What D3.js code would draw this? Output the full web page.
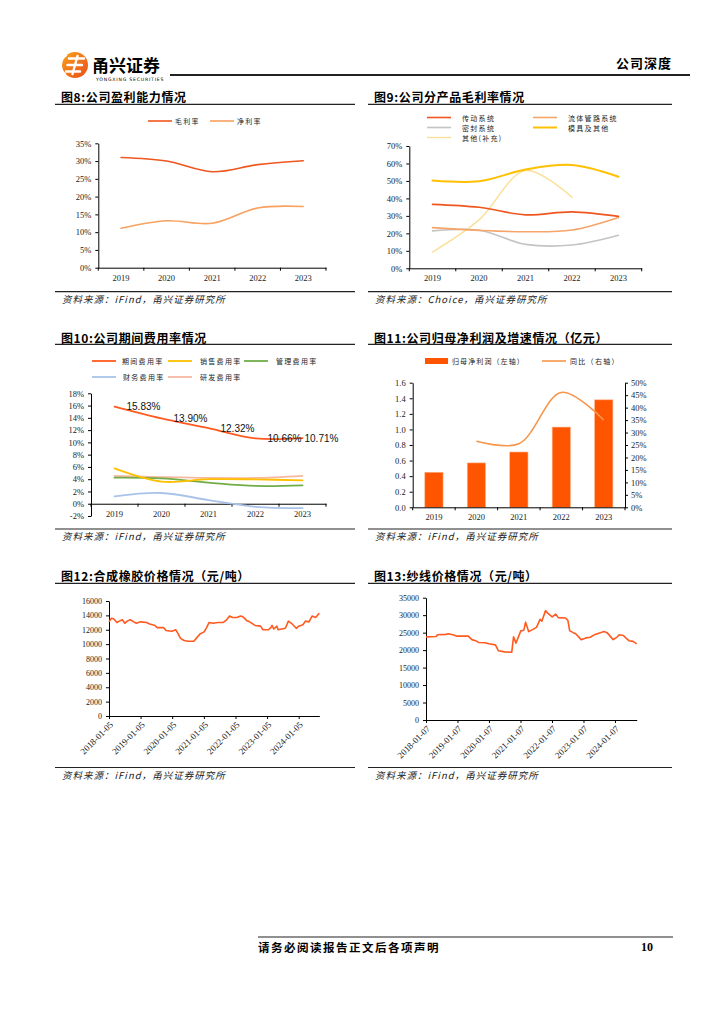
<!DOCTYPE html>
<html>
<head>
<meta charset="utf-8">
<script src="https://cdn.jsdelivr.net/npm/d3@7"></script>
<style>
  body { margin: 0; background: #fff; }
</style>
</head>
<body>
<script>
// ---- data ----
var years = ["2019", "2020", "2021", "2022", "2023"];

// 图8 盈利能力 (%)
var grossMargin = [31.0, 30.0, 27.0, 29.0, 30.1];
var netMargin = [11.1, 13.2, 12.5, 16.8, 17.2];
var ticks8 = [0, 5, 10, 15, 20, 25, 30, 35];

// 图9 分产品毛利率 (%)
var driveGM = [36.6, 34.9, 30.6, 32.3, 29.7];
var fluidGM = [23.3, 21.7, 20.9, 21.9, 29.1];
var sealGM = [21.4, 21.8, 13.7, 13.3, 18.9];
var moldGM = [50.2, 49.8, 56.5, 59.1, 52.4];
var otherGM = [9.3, 27.7, 55.9, 40.6, null];
var ticks9 = [0, 10, 20, 30, 40, 50, 60, 70];

// 图10 期间费用率 (%)
var feeTotal = [15.83, 13.90, 12.32, 10.66, 10.71];
var feeSales = [5.75, 3.6, 4.0, 3.97, 3.8];
var feeAdmin = [4.24, 4.13, 3.45, 2.9, 3.0];
var feeFin = [1.2, 1.75, 0.6, -0.5, -0.7];
var feeRD = [4.55, 4.35, 4.2, 4.2, 4.55];
var ticks10 = [-2, 0, 2, 4, 6, 8, 10, 12, 14, 16, 18];

// 图11 归母净利润 (亿元) 及同比 (%)
var netProfit = [0.45, 0.57, 0.71, 1.03, 1.38];
var profitYoY = [null, 26.5, 25.5, 46.1, 35.0];
var ticks11L = [0, 0.2, 0.4, 0.6, 0.8, 1.0, 1.2, 1.4, 1.6];
var ticks11R = [0, 5, 10, 15, 20, 25, 30, 35, 40, 45, 50];

// 图12 合成橡胶价格 (元/吨)
var rubberDates = ["2018-01-05","2018-02-02","2018-03-02","2018-04-06","2018-05-04","2018-06-08","2018-07-06","2018-08-03","2018-09-07","2018-10-19",
  "2018-11-16","2019-01-04","2019-03-15","2019-04-19","2019-06-21","2019-07-12","2019-09-27","2019-10-25","2020-01-03","2020-02-14",
  "2020-03-06","2020-04-10","2020-05-22","2020-07-03","2020-09-11","2020-10-09","2020-11-20","2021-01-08","2021-02-05","2021-03-05",
  "2021-04-23","2021-06-18","2021-08-13","2021-09-17","2021-10-29","2021-12-03","2022-01-21","2022-03-04","2022-04-01","2022-05-13",
  "2022-06-17","2022-08-19","2022-10-21","2022-11-18","2023-01-20","2023-02-17","2023-03-03","2023-03-24","2023-04-28","2023-05-12",
  "2023-08-04","2023-09-08","2023-10-13","2023-12-08","2024-01-05","2024-02-23","2024-03-22","2024-05-03","2024-06-07","2024-07-19",
  "2024-08-30"];
var rubberPrice = [13100,13600,13500,13000,13200,13400,12900,13200,13400,13100,
  12900,13100,13000,12800,12600,12300,12300,11900,11800,12000,
  11600,10800,10500,10400,10400,10800,11400,11700,12300,13000,
  12900,13000,13000,13300,13900,13700,13700,13900,13800,13300,
  13100,12600,12500,12000,12000,12300,12600,12100,12500,12000,
  12200,13200,12900,12200,12500,12700,13200,13100,13900,13700,
  14300];
var rubberTicks = ["2018-01-05","2019-01-05","2020-01-05","2021-01-05","2022-01-05","2023-01-05","2024-01-05"];
var rubberY = [0, 2000, 4000, 6000, 8000, 10000, 12000, 14000, 16000];

// 图13 纱线价格 (元/吨)
var yarnDates = ["2018-01-07","2018-05-06","2018-05-20","2018-08-26","2018-09-23","2018-11-25","2018-12-30","2019-05-12","2019-06-23","2019-08-04",
  "2019-09-08","2019-11-24","2020-01-05","2020-03-22","2020-04-26","2020-07-05","2020-09-27","2020-10-18","2020-11-15","2021-01-10",
  "2021-02-14","2021-03-07","2021-04-11","2021-06-06","2021-07-11","2021-08-22","2021-09-12","2021-10-24","2021-11-21","2022-01-09",
  "2022-02-20","2022-03-20","2022-06-12","2022-07-10","2022-07-31","2022-09-11","2022-10-09","2022-12-11","2023-02-05","2023-03-26",
  "2023-05-21","2023-09-03","2023-10-08","2023-12-17","2024-02-04","2024-02-25","2024-04-14","2024-05-12","2024-06-16","2024-08-04",
  "2024-09-15"];
var yarnPrice = [23800,23900,24400,24500,24700,24300,24000,24000,23000,22700,
  22200,22100,21800,21500,19800,19500,19400,23800,22000,25500,
  25700,28000,25300,26000,26500,28800,28300,31300,30500,29500,
  30300,29300,29200,28500,25500,25000,24700,23000,23500,23700,
  24500,25300,25000,23000,23800,24400,24200,23500,22700,22500,
  21800];
var yarnTicks = ["2018-01-07","2019-01-07","2020-01-07","2021-01-07","2022-01-07","2023-01-07","2024-01-07"];
var yarnY = [0, 5000, 10000, 15000, 20000, 25000, 30000, 35000];

// ---- setup ----
var cjk = "'Noto Sans CJK SC', 'Noto Sans', sans-serif";
var serif = "'Liberation Serif', 'DejaVu Serif', serif";
var parseDate = d3.timeParse("%Y-%m-%d");

var svg = d3.select("body").append("svg")
    .attr("width", 724)
    .attr("height", 1024);
svg.append("rect").attr("width", 724).attr("height", 1024).attr("fill", "#fff");

// header
var grad = svg.append("defs").append("linearGradient").attr("id", "logoGrad")
    .attr("x1", "0").attr("y1", "0").attr("x2", "1").attr("y2", "1");
grad.append("stop").attr("offset", "0").attr("stop-color", "#F9A11B");
grad.append("stop").attr("offset", "1").attr("stop-color", "#E94E1B");
svg.append("circle").attr("cx", 75).attr("cy", 65).attr("r", 13).attr("fill", "url(#logoGrad)");
svg.append("path")
    .attr("d", "M69,58.5 L84,58.5 M67.5,65 L82,65 M66,71.5 L80,71.5 M77.5,56 L72.5,74")
    .attr("stroke", "#fff").attr("stroke-width", 2.4).attr("stroke-linecap", "round").attr("fill", "none");
svg.append("path")
    .attr("d", "M67,55 A12,12 0 0 0 66,75")
    .attr("stroke", "#fff").attr("stroke-width", 1.6).attr("fill", "none");
svg.append("text").attr("x", 92).attr("y", 64).attr("dominant-baseline", "central")
    .style("font-family", cjk).style("font-weight", 700).style("font-size", "17px")
    .text("甬兴证券");
svg.append("text").attr("x", 96).attr("y", 79.5).attr("dominant-baseline", "central")
    .style("font-family", "'DejaVu Sans', sans-serif").style("font-size", "4.6px").style("letter-spacing", "0.8px")
    .text("YONGXING SECURITIES");
svg.append("line").attr("x1", 170).attr("x2", 690).attr("y1", 75).attr("y2", 75)
    .attr("stroke", "#222").attr("stroke-width", 2);
svg.append("text").attr("x", 672).attr("y", 62).attr("text-anchor", "end").attr("dominant-baseline", "central")
    .style("font-family", cjk).style("font-weight", 700).style("font-size", "13px").style("letter-spacing", "1px")
    .text("公司深度");

// footer
svg.append("line").attr("x1", 258).attr("x2", 673).attr("y1", 937).attr("y2", 937)
    .attr("stroke", "#222").attr("stroke-width", 1.2);
svg.append("text").attr("x", 258).attr("y", 947).attr("dominant-baseline", "central")
    .style("font-family", cjk).style("font-weight", 700).style("font-size", "11.5px").style("letter-spacing", "1.5px")
    .text("请务必阅读报告正文后各项声明");
svg.append("text").attr("x", 653).attr("y", 947).attr("text-anchor", "end").attr("dominant-baseline", "central")
    .style("font-family", serif).style("font-weight", 700).style("font-size", "12px")
    .text("10");

// ---- helpers ----
function frame(x0, x1, ty, tLine, sLine, title, source) {
  svg.append("text").attr("x", x0 + 6).attr("y", ty).attr("dominant-baseline", "central")
      .style("font-family", cjk).style("font-weight", 700).style("font-size", "12px").style("letter-spacing", "0.6px")
      .text(title);
  svg.append("line").attr("x1", x0).attr("x2", x1).attr("y1", tLine).attr("y2", tLine)
      .attr("stroke", "#222").attr("stroke-width", 1.2);
  svg.append("line").attr("x1", x0).attr("x2", x1).attr("y1", sLine).attr("y2", sLine)
      .attr("stroke", "#222").attr("stroke-width", 1.2);
  svg.append("text").attr("x", x0 + 7).attr("y", sLine + 7).attr("dominant-baseline", "central")
      .style("font-family", cjk).style("font-style", "italic").style("font-size", "9.5px").style("letter-spacing", "1px")
      .attr("fill", "#222")
      .text(source);
}

function styleAxis(g, size) {
  g.selectAll("path.domain").attr("stroke", "#000");
  g.selectAll(".tick line").attr("stroke", "#000");
  g.selectAll("text").style("font-family", serif).style("font-size", size + "px").attr("fill", "#222");
}

function bandAxis(x, y0, pad) {
  var ax = svg.append("g").attr("transform", "translate(0," + y0 + ")")
      .call(d3.axisBottom(x).tickSize(0).tickPadding(pad).tickSizeOuter(0));
  styleAxis(ax, 8.5);
  var edges = x.domain().map(function(d) { return x(d); }).concat([x.range()[1]]);
  ax.selectAll("line.edge").data(edges).enter().append("line")
      .attr("x1", function(d) { return d; }).attr("x2", function(d) { return d; })
      .attr("y1", 0).attr("y2", 3).attr("stroke", "#000");
}

function leftAxis(y, x0, vals, fmt, size) {
  var ax = svg.append("g").attr("transform", "translate(" + x0 + ",0)")
      .call(d3.axisLeft(y).tickValues(vals).tickFormat(fmt).tickSize(3).tickPadding(4).tickSizeOuter(0));
  styleAxis(ax, size);
  return ax;
}

function legendLine(x, y, color, w, label, tx) {
  svg.append("line").attr("x1", x).attr("x2", x + 24).attr("y1", y).attr("y2", y)
      .attr("stroke", color).attr("stroke-width", w);
  svg.append("text").attr("x", tx).attr("y", y).attr("dominant-baseline", "central")
      .style("font-family", cjk).style("font-size", "7px").style("letter-spacing", "1.3px").attr("fill", "#222")
      .text(label);
}

function drawSeries(x, y, vals, color, w) {
  var line = d3.line()
      .defined(function(d) { return d != null; })
      .x(function(d, i) { return x(years[i]) + x.bandwidth() / 2; })
      .y(function(d) { return y(d); })
      .curve(d3.curveCatmullRom);
  svg.append("path").datum(vals)
      .attr("d", line)
      .attr("fill", "none").attr("stroke", color).attr("stroke-width", w)
      .attr("stroke-linecap", "round");
}

var pct = function(d) { return d + "%"; };

// ---- 图8 ----
frame(55, 355, 96.7, 104.3, 291.7, "图8:公司盈利能力情况", "资料来源：iFind，甬兴证券研究所");
var x8 = d3.scaleBand().domain(years).range([98.3, 326]);
var y8 = d3.scaleLinear().domain([0, 35]).range([267.7, 143.3]);
leftAxis(y8, 98.3, ticks8, pct, 8.5);
bandAxis(x8, 267.7, 7);
drawSeries(x8, y8, grossMargin, "#F0561F", 1.6);
drawSeries(x8, y8, netMargin, "#F8A160", 1.6);
legendLine(148, 121, "#F0561F", 1.6, "毛利率", 175);
legendLine(210, 121, "#F8A160", 1.6, "净利率", 237);

// ---- 图9 ----
frame(368, 672, 96.7, 104.3, 291.7, "图9:公司分产品毛利率情况", "资料来源：Choice，甬兴证券研究所");
var x9 = d3.scaleBand().domain(years).range([409.3, 641.7]);
var y9 = d3.scaleLinear().domain([0, 70]).range([268.3, 146]);
leftAxis(y9, 409.3, ticks9, pct, 8.5);
bandAxis(x9, 268.3, 7);
var c9 = ["#F0561F", "#F5A46A", "#C4C4C4", "#FFC000", "#FBE09A"];
drawSeries(x9, y9, sealGM, c9[2], 1.6);
drawSeries(x9, y9, otherGM, c9[4], 1.4);
drawSeries(x9, y9, fluidGM, c9[1], 1.6);
drawSeries(x9, y9, driveGM, c9[0], 1.6);
drawSeries(x9, y9, moldGM, c9[3], 2);
legendLine(427, 117.5, c9[0], 1.6, "传动系统", 462);
legendLine(533, 117.5, c9[1], 1.6, "流体管路系统", 568);
legendLine(427, 127.5, c9[2], 1.6, "密封系统", 462);
legendLine(533, 127.5, c9[3], 2, "模具及其他", 568);
legendLine(427, 137.5, c9[4], 1.4, "其他(补充)", 462);

// ---- 图10 ----
frame(55, 355, 337.7, 344.3, 529, "图10:公司期间费用率情况", "资料来源：iFind，甬兴证券研究所");
var x10 = d3.scaleBand().domain(years).range([91, 326]);
var y10 = d3.scaleLinear().domain([-2, 18]).range([516, 393.3]);
leftAxis(y10, 91, ticks10, pct, 8.5);
bandAxis(x10, y10(0), 7.6);
var c10 = ["#FF5A1F", "#FFC000", "#70AD47", "#A9C3E8", "#F7B8A2"];
drawSeries(x10, y10, feeFin, c10[3], 1.8);
drawSeries(x10, y10, feeRD, c10[4], 1.8);
drawSeries(x10, y10, feeAdmin, c10[2], 1.8);
drawSeries(x10, y10, feeSales, c10[1], 1.8);
drawSeries(x10, y10, feeTotal, c10[0], 1.8);
svg.selectAll("text.lab10").data(feeTotal).enter().append("text")
    .attr("x", function(d, i) { return x10(years[i]) + x10.bandwidth() / 2 + (i === feeTotal.length - 1 ? 2 : 12); })
    .attr("y", function(d) { return y10(d); })
    .attr("dominant-baseline", "central")
    .style("font-family", "'Liberation Sans', Arial, sans-serif").style("font-size", "10px")
    .attr("fill", "#111")
    .text(function(d) { return d.toFixed(2) + "%"; });
legendLine(92, 361, c10[0], 1.8, "期间费用率", 122);
legendLine(168, 361, c10[1], 1.8, "销售费用率", 200);
legendLine(244, 361, c10[2], 1.8, "管理费用率", 276);
legendLine(92, 377, c10[3], 1.8, "财务费用率", 123);
legendLine(168, 377, c10[4], 1.8, "研发费用率", 200);

// ---- 图11 ----
frame(368, 672, 337.7, 344.3, 529, "图11:公司归母净利润及增速情况（亿元）", "资料来源：iFind，甬兴证券研究所");
var x11 = d3.scaleBand().domain(years).range([412.7, 625]);
var y11L = d3.scaleLinear().domain([0, 1.6]).range([507.3, 382.7]);
var y11R = d3.scaleLinear().domain([0, 50]).range([507.3, 382.7]);
leftAxis(y11L, 412.7, ticks11L, d3.format(".1f"), 8.5);
var axR = svg.append("g").attr("transform", "translate(625,0)")
    .call(d3.axisRight(y11R).tickValues(ticks11R).tickFormat(pct).tickSize(3).tickPadding(3).tickSizeOuter(0));
styleAxis(axR, 8.5);
var barW = x11.bandwidth() * 0.43;
svg.selectAll("rect.bar11").data(netProfit).enter().append("rect")
    .attr("x", function(d, i) { return x11(years[i]) + (x11.bandwidth() - barW) / 2; })
    .attr("y", function(d) { return y11L(d); })
    .attr("width", barW)
    .attr("height", function(d) { return y11L(0) - y11L(d); })
    .attr("fill", "#FF5500")
    .attr("stroke", "#FFB38A").attr("stroke-width", 0.6);
bandAxis(x11, 507.3, 7);
var line11 = d3.line()
    .defined(function(d) { return d != null; })
    .x(function(d, i) { return x11(years[i]) + x11.bandwidth() / 2; })
    .y(function(d) { return y11R(d); })
    .curve(d3.curveCatmullRom);
svg.append("path").datum(profitYoY).attr("d", line11)
    .attr("fill", "none").attr("stroke", "#F7964A").attr("stroke-width", 1.6);
svg.append("rect").attr("x", 425).attr("y", 358).attr("width", 23).attr("height", 6).attr("fill", "#FF5500");
svg.append("text").attr("x", 452).attr("y", 361).attr("dominant-baseline", "central")
    .style("font-family", cjk).style("font-size", "7px").style("letter-spacing", "1.1px").attr("fill", "#222")
    .text("归母净利润（左轴）");
legendLine(542, 361, "#F7964A", 1.6, "同比（右轴）", 570);

// ---- 图12 / 图13 ----
function timeChart(dates, vals, tickDates, yTicks, yMax, xr, yr) {
  var pts = dates.map(function(d, i) { return { date: parseDate(d), v: vals[i] }; });
  var x = d3.scaleTime().domain(d3.extent(pts, function(d) { return d.date; })).range(xr);
  var y = d3.scaleLinear().domain([0, yMax]).range(yr);
  leftAxis(y, xr[0], yTicks, d3.format("d"), 8);
  var ax = svg.append("g").attr("transform", "translate(0," + yr[0] + ")")
      .call(d3.axisBottom(x).tickValues(tickDates.map(parseDate)).tickFormat(d3.timeFormat("%Y-%m-%d"))
        .tickSize(3).tickSizeOuter(0));
  styleAxis(ax, 9);
  ax.selectAll(".tick text")
      .attr("y", 0).attr("dy", "0.35em")
      .attr("transform", "translate(2,7) rotate(-45)")
      .style("text-anchor", "end");
  svg.append("path").datum(pts)
      .attr("d", d3.line().x(function(d) { return x(d.date); }).y(function(d) { return y(d.v); }))
      .attr("fill", "none").attr("stroke", "#FF5A1F").attr("stroke-width", 1.6).attr("stroke-linejoin", "round");
}

frame(55, 355, 575, 583.3, 767.5, "图12:合成橡胶价格情况（元/吨）", "资料来源：iFind，甬兴证券研究所");
timeChart(rubberDates, rubberPrice, rubberTicks, rubberY, 16000, [109, 319.3], [716, 601]);

frame(368, 672, 575, 583.3, 767.5, "图13:纱线价格情况（元/吨）", "资料来源：iFind，甬兴证券研究所");
timeChart(yarnDates, yarnPrice, yarnTicks, yarnY, 35000, [426, 636.7], [720, 597.7]);
</script>
</body>
</html>
